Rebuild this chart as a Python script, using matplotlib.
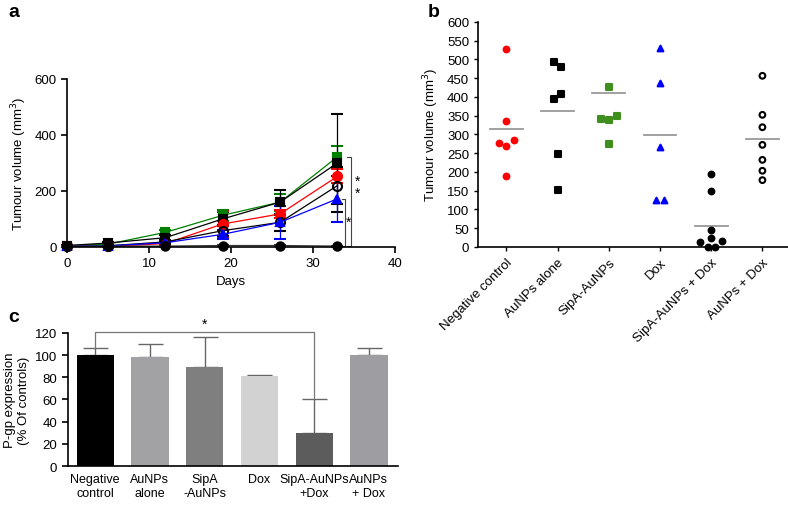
import numpy as np
import matplotlib.pyplot as plt

plt.rcParams['font.family'] = ['Liberation Sans', 'DejaVu Sans']
plt.rcParams['font.size'] = 9.5

# ---- panel a: tumour growth curves ----
DAYS = [0, 5, 12, 19, 26, 33]
NEG_CTRL = [2, 2, 12, 82, 118, 252]
NEG_CTRL_ERR = [2, 3, 8, 45, 15, 25]
AUNPS = [5, 14, 33, 100, 160, 300]
AUNPS_ERR = [2, 4, 8, 25, 45, 175]
SIPA = [5, 10, 52, 113, 160, 322]
SIPA_ERR = [2, 3, 10, 20, 30, 40]
DOX = [2, 4, 15, 45, 88, 172]
DOX_ERR = [1, 2, 6, 15, 60, 82]
AUNPS_DOX = [2, 4, 18, 58, 88, 219]
AUNPS_DOX_ERR = [1, 2, 6, 20, 30, 65]
SIPA_DOX = [3, 3, 3, 5, 5, 3]
SIPA_DOX_ERR = [1, 1, 1, 2, 2, 2]

# ---- panel b: final tumour volumes ----
GROUPS_B = ['Negative control', 'AuNPs alone', 'SipA-AuNPs', 'Dox',
            'SipA-AuNPs + Dox', 'AuNPs + Dox']
VOL_NEG = [528, 335, 277, 268, 285, 188]
VOL_AUNPS = [494, 480, 408, 395, 247, 152]
VOL_SIPA = [425, 341, 337, 349, 274]
VOL_DOX = [531, 437, 267, 124, 124]
VOL_SIPA_DOX = [195, 149, 44, 24, 14, 16, 1, 1]
VOL_AUNPS_DOX = [456, 352, 319, 272, 232, 203, 178]
MEANS_B = [313, 363, 409, 297, 56, 288]

# horizontal jitter of the dots (category units)
JIT_NEG = [0, 0, -0.14, 0, 0.14, 0]
JIT_AUNPS = [-0.07, 0.07, 0.07, -0.07, 0, 0]
JIT_SIPA = [0, -0.15, 0, 0.15, 0]
JIT_DOX = [0, 0, 0, -0.08, 0.08]
JIT_SIPA_DOX = [0, 0, 0, 0, -0.22, 0.22, -0.07, 0.08]
JIT_AUNPS_DOX = [0, 0, 0, 0, 0, 0, 0]

# ---- panel c: P-gp expression ----
GROUPS_C = ['Negative\ncontrol', 'AuNPs\nalone', 'SipA\n-AuNPs', 'Dox',
            'SipA-AuNPs\n+Dox', 'AuNPs\n+ Dox']
PGP = [100, 98, 89, 81, 30, 100]
PGP_ERR = [6, 12, 27, 1.5, 30, 6]
BAR_COLORS = ['#000000', '#a2a2a5', '#7f7f7f', '#d2d2d2', '#5c5c5c', '#9e9ea2']

fig = plt.figure(figsize=(7.88, 5.06), dpi=100)

# panel a
ax = fig.add_axes([0.085, 0.51, 0.416, 0.332])
series = [
    (SIPA, SIPA_ERR, 'green', 's', 'green', 6),
    (AUNPS, AUNPS_ERR, 'black', 's', 'black', 6),
    (NEG_CTRL, NEG_CTRL_ERR, 'red', 'o', 'red', 6.5),
    (AUNPS_DOX, AUNPS_DOX_ERR, 'black', 'o', 'none', 6.5),
    (DOX, DOX_ERR, 'blue', '^', 'blue', 6),
    (SIPA_DOX, SIPA_DOX_ERR, '#333333', 'o', 'black', 6),
]
for vals, err, col, mk, fc, ms in series:
    ec = 'black' if col == '#333333' else col
    ax.errorbar(DAYS, vals, yerr=err, color=col, marker=mk, mfc=fc, mec=ec,
                mew=1.5, ms=ms, lw=0.9, elinewidth=0.9, capsize=4, capthick=0.9, clip_on=False)

# significance brackets
ax.plot([34.2, 34.7, 34.7, 34.2], [322, 322, 3, 3], color='#444444', lw=0.8, clip_on=False)
ax.plot([33.5, 33.9, 33.9, 33.5], [172, 172, 3, 3], color='#444444', lw=0.8, clip_on=False)
ax.text(35.5, 215, '*\n*', ha='center', va='center', fontsize=10, linespacing=0.9)
ax.text(34.4, 90, '*', ha='center', va='center', fontsize=10)

ax.set_xlim(0, 40)
ax.set_ylim(0, 600)
ax.set_xticks([0, 10, 20, 30, 40])
ax.set_yticks([0, 200, 400, 600])
ax.set_xlabel('Days')
ax.set_ylabel('Tumour volume (mm$^3$)')
for s in ['top', 'right']:
    ax.spines[s].set_visible(False)
ax.spines['left'].set_linewidth(1.2)
ax.spines['bottom'].set_linewidth(1.2)
ax.tick_params(direction='out', width=1.2, length=4)

# panel b
bx = fig.add_axes([0.607, 0.51, 0.393, 0.445])
dots = [
    (VOL_NEG, JIT_NEG, 'o', 'red', 'red'),
    (VOL_AUNPS, JIT_AUNPS, 's', 'black', 'black'),
    (VOL_SIPA, JIT_SIPA, 's', '#3f8f1f', '#3f8f1f'),
    (VOL_DOX, JIT_DOX, '^', 'blue', 'blue'),
    (VOL_SIPA_DOX, JIT_SIPA_DOX, 'o', 'black', 'black'),
    (VOL_AUNPS_DOX, JIT_AUNPS_DOX, 'o', 'none', 'black'),
]
for i, (vals, jit, mk, fc, ec) in enumerate(dots):
    xs = np.array(jit) + i
    bx.scatter(xs, vals, marker=mk, facecolor=fc, edgecolor=ec, s=17, linewidths=1.5,
               zorder=3, clip_on=False)
    bx.plot([i - 0.32, i + 0.32], [MEANS_B[i]] * 2, color='#999999', lw=1.3)

bx.set_xlim(-0.55, 5.5)
bx.set_ylim(0, 600)
bx.set_yticks(np.arange(0, 601, 50))
bx.set_xticks(range(6))
bx.set_xticklabels(GROUPS_B, rotation=45, ha='right', rotation_mode='anchor')
bx.set_ylabel('Tumour volume (mm$^3$)')
for s in ['top', 'right']:
    bx.spines[s].set_visible(False)
bx.spines['left'].set_linewidth(1.2)
bx.spines['bottom'].set_linewidth(1.2)
bx.tick_params(direction='out', width=1.0, length=3)

# panel c
cx = fig.add_axes([0.086, 0.077, 0.419, 0.263])
pos = np.arange(len(PGP))
cx.bar(pos, PGP, width=0.68, color=BAR_COLORS, zorder=2)
cx.errorbar(pos, PGP, yerr=[np.zeros(len(PGP)), PGP_ERR], fmt='none', ecolor='#666666',
            elinewidth=1.0, capsize=9, capthick=1.0, zorder=1)
cx.plot([0, 0, 4, 4], [106, 120.5, 120.5, 60], color='#777777', lw=0.9, clip_on=False)
cx.text(2, 122, '*', ha='center', va='bottom', fontsize=10)
cx.set_xlim(-0.5, 5.53)
cx.set_ylim(0, 120)
cx.set_yticks(np.arange(0, 121, 20))
cx.set_xticks(pos)
cx.set_xticklabels(GROUPS_C, fontsize=9)
cx.set_ylabel('P-gp expression\n(% Of controls)')
for s in ['top', 'right']:
    cx.spines[s].set_visible(False)
cx.spines['left'].set_linewidth(1.2)
cx.spines['bottom'].set_linewidth(1.2)
cx.tick_params(axis='y', direction='out', width=1.2, length=4)
cx.tick_params(axis='x', length=0, pad=5)

fig.text(0.01, 0.975, 'a', fontsize=14, fontweight='bold', va='center')
fig.text(0.543, 0.975, 'b', fontsize=14, fontweight='bold', va='center')
fig.text(0.01, 0.372, 'c', fontsize=14, fontweight='bold', va='center')

fig.savefig('out.png', dpi=100)
